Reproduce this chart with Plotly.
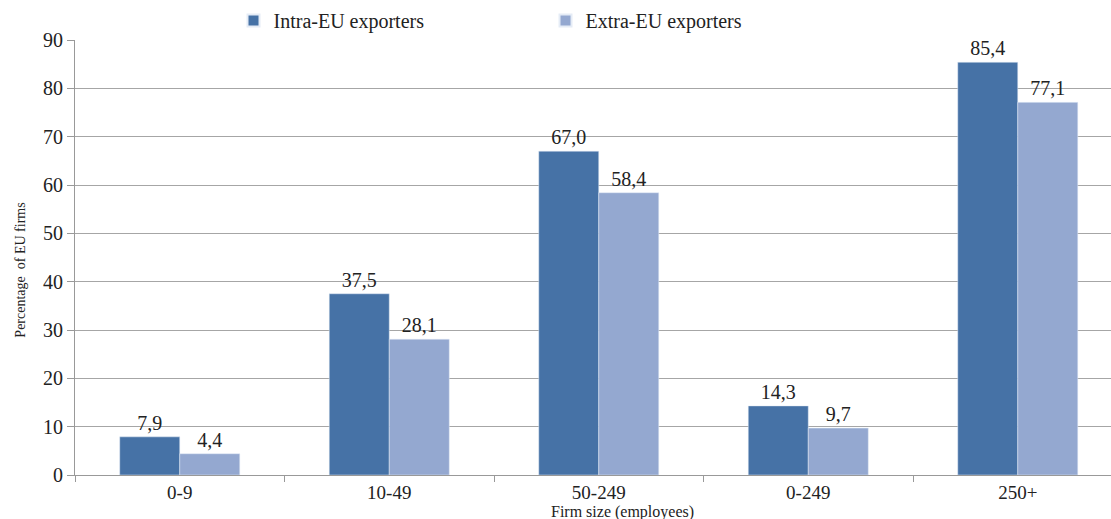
import plotly.graph_objects as go

categories = ["0-9", "10-49", "50-249", "0-249", "250+"]
intra_eu = [7.9, 37.5, 67.0, 14.3, 85.4]
extra_eu = [4.4, 28.1, 58.4, 9.7, 77.1]
intra_labels = ["7,9", "37,5", "67,0", "14,3", "85,4"]
extra_labels = ["4,4", "28,1", "58,4", "9,7", "77,1"]
y_ticks = [0, 10, 20, 30, 40, 50, 60, 70, 80, 90]

SERIF = "Liberation Serif, Times New Roman, serif"

fig = go.Figure()
fig.add_trace(go.Bar(x=categories, y=intra_eu, name="Intra-EU exporters",
                     marker_color="#4672A6", text=intra_labels, textposition="outside",
                     textfont=dict(family=SERIF, size=20, color="#222"), cliponaxis=False))
fig.add_trace(go.Bar(x=categories, y=extra_eu, name="Extra-EU exporters",
                     marker_color="#94A8D0", text=extra_labels, textposition="outside",
                     textfont=dict(family=SERIF, size=20, color="#222"), cliponaxis=False))

fig.update_layout(
    width=1111, height=519,
    margin=dict(l=75, r=0, t=40, b=44),
    paper_bgcolor="white", plot_bgcolor="white",
    barmode="group", bargap=0.427, bargroupgap=0,
    font=dict(family=SERIF, size=19, color="#222"),
    legend=dict(orientation="h", x=0.153, xanchor="left", y=1.0, yanchor="bottom",
                entrywidth=267, font=dict(family=SERIF, size=20, color="#222"),
                itemsizing="constant"),
    xaxis=dict(range=[-0.5, 4.445], showline=True, linecolor="#999", linewidth=1,
               ticks="outside", tickson="boundaries", ticklen=6, tickcolor="#999",
               tickfont=dict(family=SERIF, size=19), showgrid=False),
    yaxis=dict(range=[0, 90], tickvals=y_ticks, showline=True, linecolor="#999", linewidth=1,
               ticks="outside", ticklen=7, tickcolor="#999", showgrid=True, gridcolor="#a6a6a6",
               gridwidth=1, tickfont=dict(family=SERIF, size=20), zeroline=False),
    annotations=[
        dict(text="Firm size (employees)", xref="paper", yref="paper", x=0.528, y=-0.085,
             xanchor="center", yanchor="middle", showarrow=False,
             font=dict(family=SERIF, size=16, color="#222")),
        dict(text="Percentage  of EU firms", xref="paper", yref="paper", x=-0.053, y=0.47,
             xanchor="center", yanchor="middle", showarrow=False, textangle=-90,
             font=dict(family=SERIF, size=14, color="#222")),
    ],
)

fig.write_html("out.html")
